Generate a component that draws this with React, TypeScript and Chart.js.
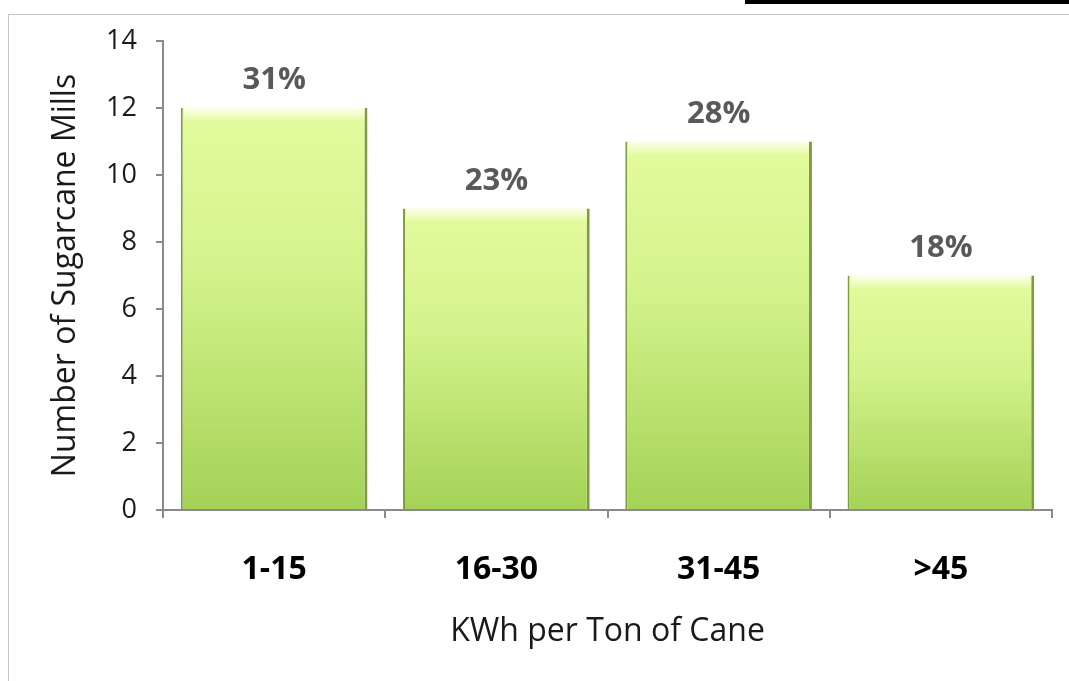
import React, { useEffect, useRef } from "react";
import { Chart, registerables } from "chart.js";

Chart.register(...registerables);

const categories: string[] = ["1-15", "16-30", "31-45", ">45"];
const millCounts: number[] = [12, 9, 11, 7];
const shareLabels: string[] = ["31%", "23%", "28%", "18%"];
const yMin = 0;
const yMax = 14;
const yStep = 2;
const yTitle = "Number of Sugarcane Mills";
const xTitle = "KWh per Ton of Cane";

const FONT = "'Open Sans', 'DejaVu Sans', sans-serif";

const decorPlugin = {
  id: "decor",
  afterDatasetsDraw(chart: any) {
    const ctx = chart.ctx as CanvasRenderingContext2D;
    const meta = chart.getDatasetMeta(0);
    ctx.save();
    meta.data.forEach((el: any, i: number) => {
      const half = el.width / 2;
      const g = ctx.createLinearGradient(0, el.y, 0, el.y + 14);
      g.addColorStop(0, "rgba(255,255,240,0.95)");
      g.addColorStop(1, "rgba(255,255,240,0)");
      ctx.fillStyle = g;
      ctx.fillRect(el.x - half + 3, el.y, el.width - 6, 14);
      ctx.fillStyle = "#595959";
      ctx.font = `bold 31px ${FONT}`;
      ctx.textAlign = "center";
      ctx.textBaseline = "alphabetic";
      ctx.fillText(shareLabels[i], el.x, el.y - 19);
    });
    const area = chart.chartArea;
    ctx.fillStyle = "#1a1a1a";
    ctx.font = `32px ${FONT}`;
    ctx.textAlign = "center";
    ctx.textBaseline = "middle";
    ctx.fillText(xTitle, (area.left + area.right) / 2, 632);
    ctx.translate(66, (area.top + area.bottom) / 2);
    ctx.rotate(-Math.PI / 2);
    ctx.fillText(yTitle, 0, 0);
    ctx.restore();
  },
};

function barGradient(context: any) {
  const chart = context.chart;
  const yScale = chart.scales?.y;
  if (!yScale || context.dataIndex === undefined) return "#c9ec80";
  const v = millCounts[context.dataIndex];
  const top = yScale.getPixelForValue(v);
  const bottom = yScale.getPixelForValue(0);
  if (!isFinite(top) || !isFinite(bottom) || top === bottom) return "#c9ec80";
  const g = chart.ctx.createLinearGradient(0, top, 0, bottom);
  g.addColorStop(0, "#e4fb9e");
  g.addColorStop(0.4, "#d4f38c");
  g.addColorStop(1, "#a4d256");
  return g;
}

export default function App() {
  const canvasRef = useRef<HTMLCanvasElement | null>(null);

  useEffect(() => {
    if (!canvasRef.current) return;
    const chart = new Chart(canvasRef.current, {
      type: "bar",
      data: {
        labels: categories,
        datasets: [
          {
            data: millCounts,
            backgroundColor: barGradient,
            borderColor: "#7f9c45",
            borderWidth: { left: 2, right: 3, top: 0, bottom: 0 },
            borderSkipped: false,
            barPercentage: 0.84,
            categoryPercentage: 1,
          },
        ],
      },
      options: {
        animation: false,
        responsive: false,
        maintainAspectRatio: false,
        layout: { padding: { left: 0, right: 17, top: 41, bottom: 0 } },
        plugins: {
          legend: { display: false },
          tooltip: { enabled: false },
          title: { display: false },
        },
        scales: {
          x: {
            offset: true,
            grid: {
              display: true,
              drawOnChartArea: false,
              drawTicks: true,
              tickLength: 8,
              color: "#8a8a8a",
              lineWidth: 2,
              offset: true,
            },
            border: { display: true, color: "#8a8a8a", width: 2 },
            ticks: {
              color: "#000000",
              font: { family: FONT, size: 32, weight: "bold" },
              padding: 33,
            },
            afterFit: (scale: any) => {
              scale.height = 171;
            },
          },
          y: {
            min: yMin,
            max: yMax,
            grid: {
              display: true,
              drawOnChartArea: false,
              drawTicks: true,
              tickLength: 7,
              color: "#8a8a8a",
              lineWidth: 2,
            },
            border: { display: true, color: "#8a8a8a", width: 2 },
            ticks: {
              stepSize: yStep,
              color: "#1a1a1a",
              font: { family: FONT, size: 27 },
              padding: 19,
            },
            afterFit: (scale: any) => {
              scale.width = 163;
            },
          },
        },
      },
      plugins: [decorPlugin],
    });
    return () => chart.destroy();
  }, []);

  return (
    <div
      style={{
        position: "fixed",
        left: 0,
        top: 0,
        width: 1069,
        height: 681,
        background: "#ffffff",
        overflow: "hidden",
      }}
    >
      <div
        style={{
          position: "absolute",
          left: 745,
          top: 0,
          width: 324,
          height: 4,
          background: "#000000",
        }}
      />
      <div
        style={{
          position: "absolute",
          left: 8,
          top: 14,
          width: 1100,
          height: 700,
          borderLeft: "1px solid #c4c4c4",
          borderTop: "1px solid #c4c4c4",
        }}
      />
      <canvas
        ref={canvasRef}
        width={1069}
        height={681}
        style={{ position: "absolute", left: 0, top: 0, width: 1069, height: 681 }}
      />
    </div>
  );
}
